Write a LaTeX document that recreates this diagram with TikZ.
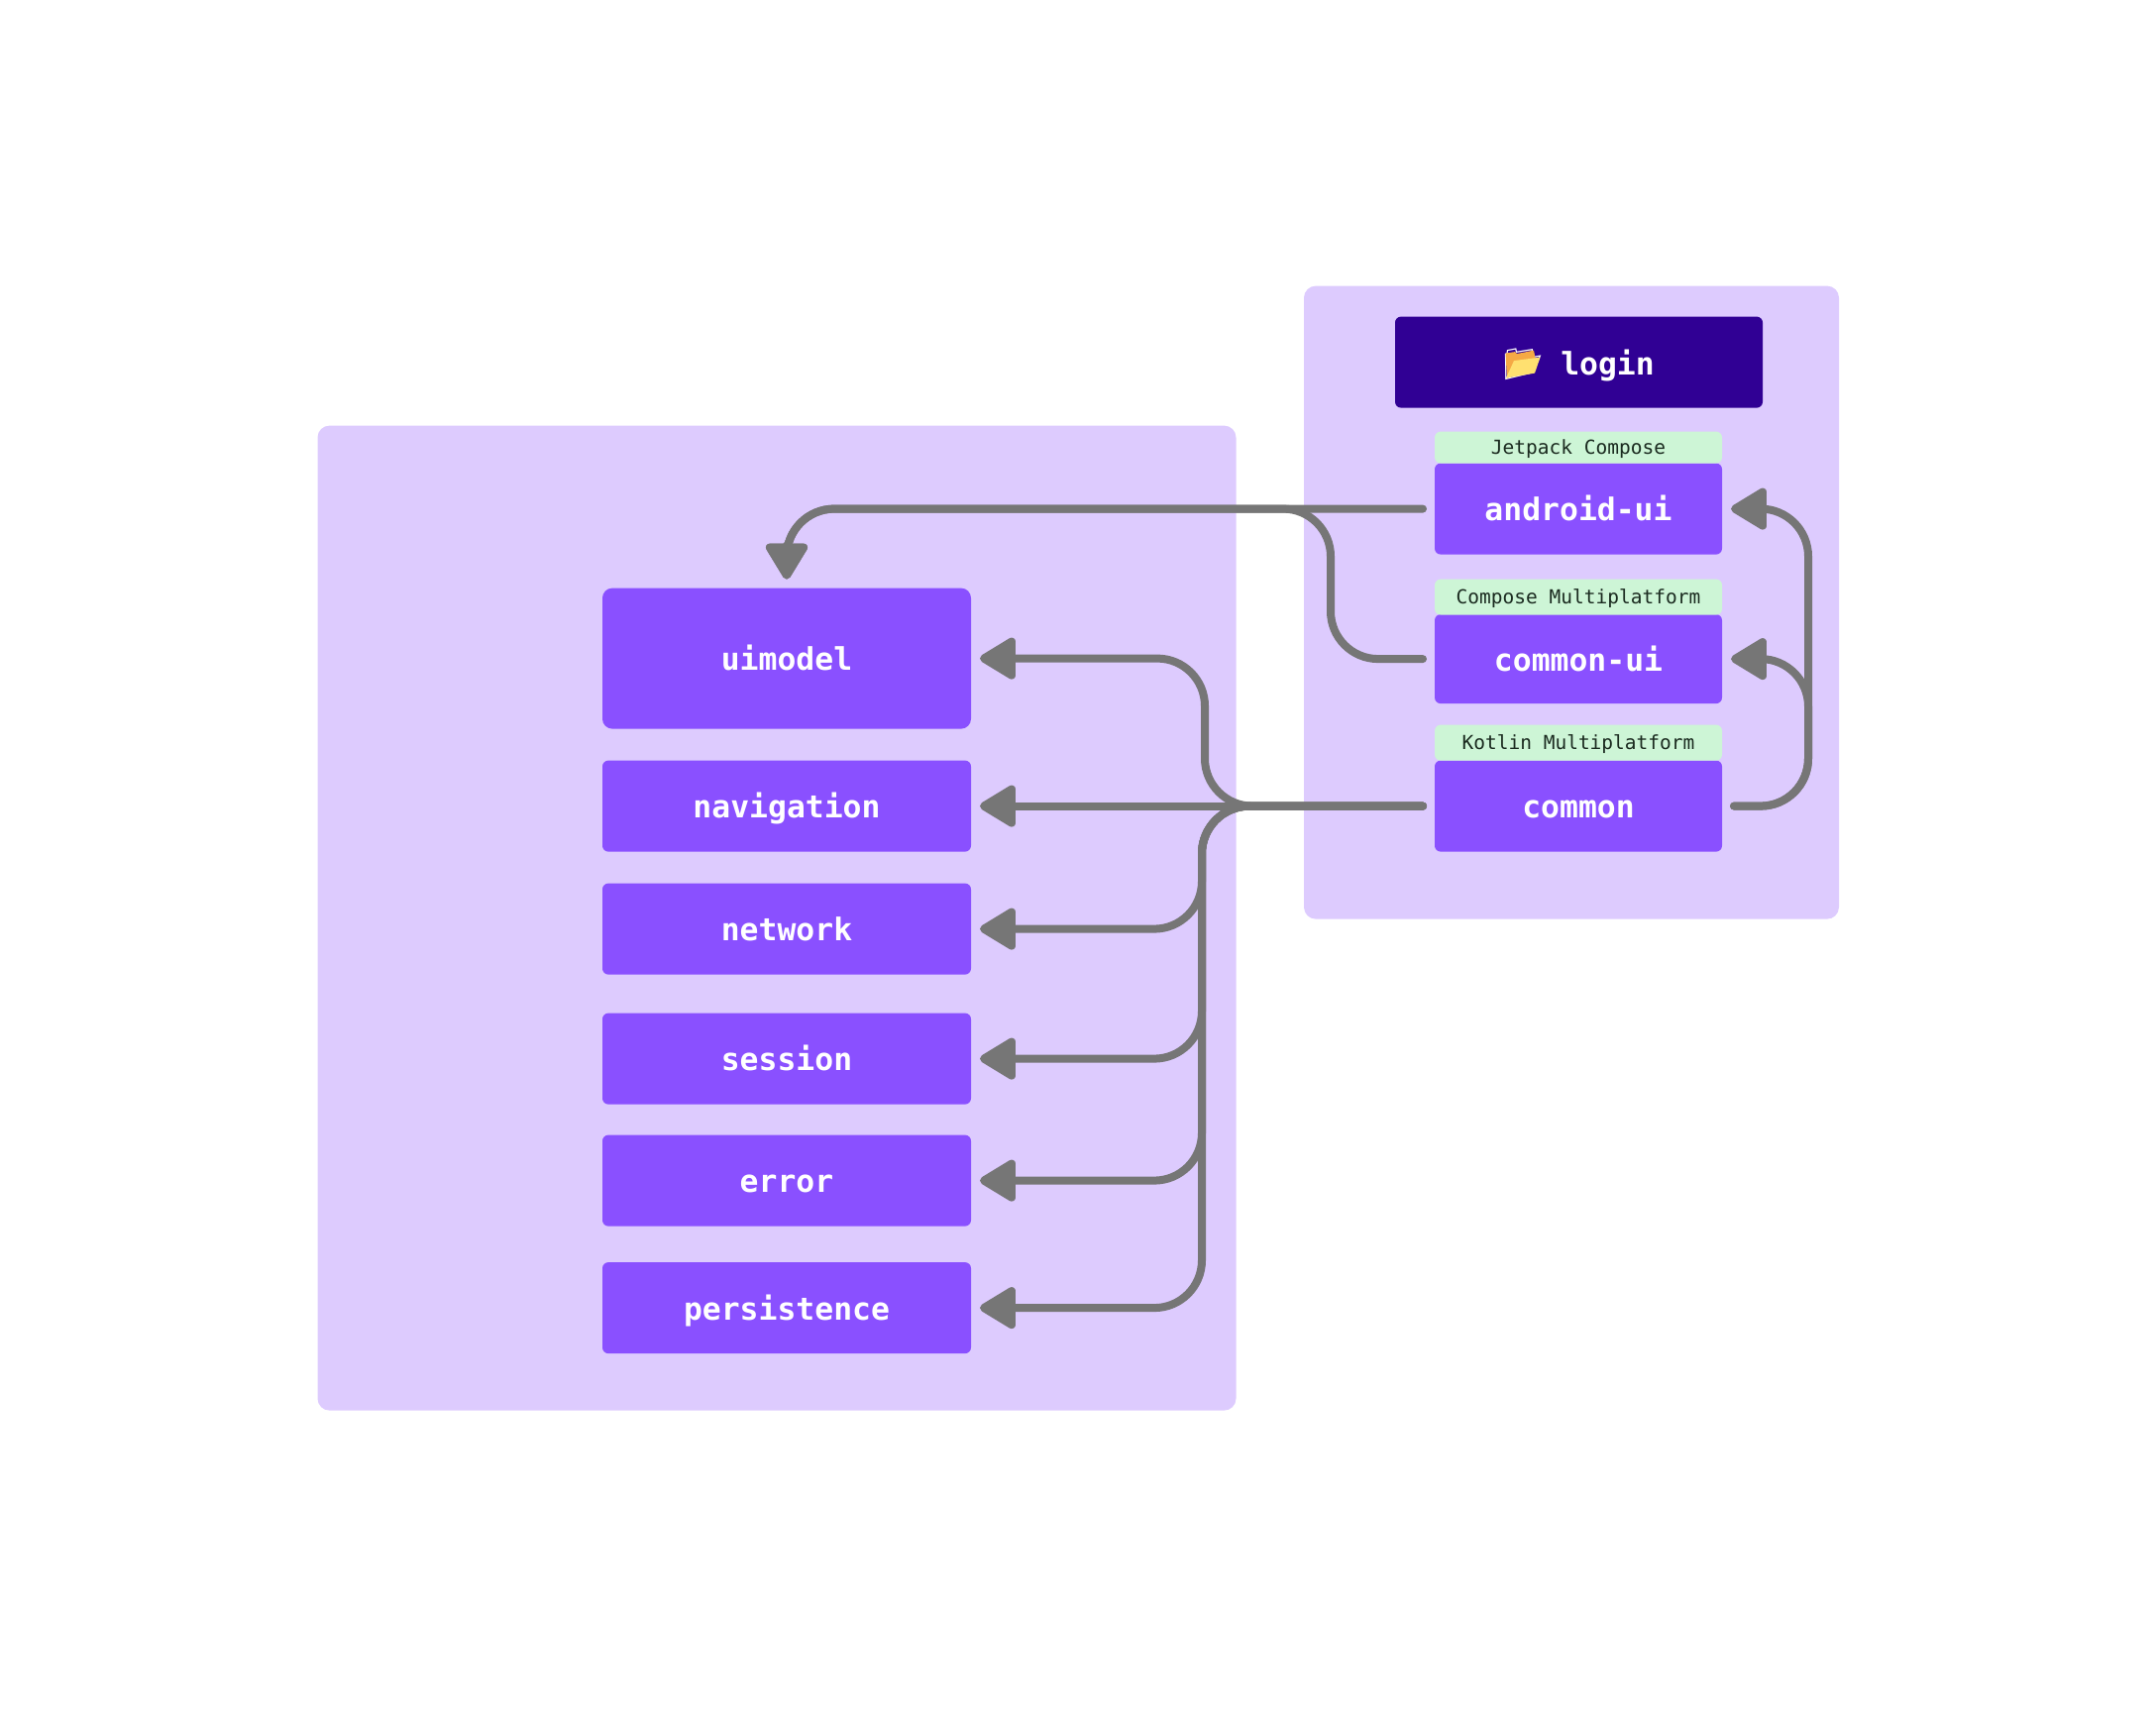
\documentclass[tikz,border=0pt]{standalone}
\usepackage{fontspec}
\setmonofont{DejaVu Sans Mono}
\newfontfamily\emojifont{Noto Emoji}
\usetikzlibrary{arrows.meta}
\definecolor{panelcolor}{HTML}{DDCBFE}
\definecolor{modulecolor}{HTML}{8A50FF}
\definecolor{logincolor}{HTML}{300094}
\definecolor{tagcolor}{HTML}{CDF5D6}
\definecolor{tagtext}{HTML}{1B2B20}
\definecolor{linkcolor}{HTML}{767676}
\definecolor{folderback}{HTML}{F5A945}
\definecolor{folderfront}{HTML}{FFE070}
\tikzset{
  panel/.style={fill=panelcolor, rounded corners=12pt, inner sep=0pt, outer sep=0pt},
  module/.style={fill=modulecolor, text=white, rounded corners=6pt, inner sep=0pt, outer sep=0pt,
    minimum width=372pt, minimum height=92pt, text height=24pt, text depth=0pt,
    font=\ttfamily\bfseries\fontsize{31.4}{31.4}\selectfont},
  feature/.style={module, minimum width=290pt},
  tag/.style={fill=tagcolor, text=tagtext, rounded corners=6pt, inner sep=0pt, outer sep=0pt,
    minimum width=290pt, text height=14pt, text depth=0pt,
    font=\ttfamily\fontsize{19.5}{19.5}\selectfont},
  link/.style={draw=linkcolor, line width=8pt, line cap=round, rounded corners=48pt,
    shorten <=12pt, shorten >=9pt, -{Triangle[length=40pt, width=46pt, round]}},
}
\begin{document}
\begin{tikzpicture}[x=1pt, y=-1pt]
  \useasboundingbox (0,0.4) rectangle (2176,1728.4);
  % Panels
  \node[panel, minimum width=927pt, minimum height=994pt] (corepanel) at (784,927) {};
  \node[panel, minimum width=540pt, minimum height=639pt] (loginpanel) at (1586,608.5) {};

  % Modules
  \node[module, minimum height=142pt, rounded corners=10pt] (uimodel) at (794,665) {uimodel};
  \node[module] (navigation) at (794,814) {navigation};
  \node[module] (network) at (794,938) {network};
  \node[module] (session) at (794,1069) {session};
  \node[module] (error) at (794,1192) {error};
  \node[module] (persistence) at (794,1320.5) {persistence};

  % Login
  \node[module, minimum width=371pt, fill=logincolor, text height=25pt] (login) at (1593.5,366)
    {\makebox[58pt][l]{\emojifont 📂}login};
  \fill[folderback] (1519.5,357) -- (1529,355.5) -- (1531,357.5) -- (1548,354) -- (1549.5,362) -- (1521,382) -- cycle;
  \fill[folderfront] (1528,364.5) -- (1554.5,361) -- (1549,377) -- (1520,382) -- cycle;

  \node[feature] (androidui) at (1593,514) {android-ui};
  \node[tag, minimum height=32pt] (jetpack) at (1593,452) {Jetpack Compose};
  \node[feature, minimum height=90pt] (commonui) at (1593,665.5) {common-ui};
  \node[tag, minimum height=36pt] (composemp) at (1593,603) {Compose Multiplatform};
  \node[feature] (common) at (1593,814) {common};
  \node[tag, minimum height=36pt] (kotlinmp) at (1593,750) {Kotlin Multiplatform};

  % Bends
  \coordinate (upbus) at (1216,665);
  \coordinate (lowbus) at (1213,814);
  \coordinate (rightbus) at (1825,814);
  \coordinate (uibus) at (1343,514);

  % Links
  \draw[link] (androidui.west) -| (uimodel.north);
  \draw[link] (commonui.west) -| (uibus) -| (uimodel.north);
  \draw[link] (common.west) -| (upbus) -- (uimodel.east);
  \draw[link] (common.west) -- (navigation.east);
  \draw[link] (common.west) -| (lowbus |- network.east) -- (network.east);
  \draw[link] (common.west) -| (lowbus |- session.east) -- (session.east);
  \draw[link] (common.west) -| (lowbus |- error.east) -- (error.east);
  \draw[link] (common.west) -| (lowbus |- persistence.east) -- (persistence.east);
  \draw[link] (common.east) -| (rightbus |- commonui.east) -- (commonui.east);
  \draw[link] (common.east) -| (rightbus |- androidui.east) -- (androidui.east);
\end{tikzpicture}
\end{document}
